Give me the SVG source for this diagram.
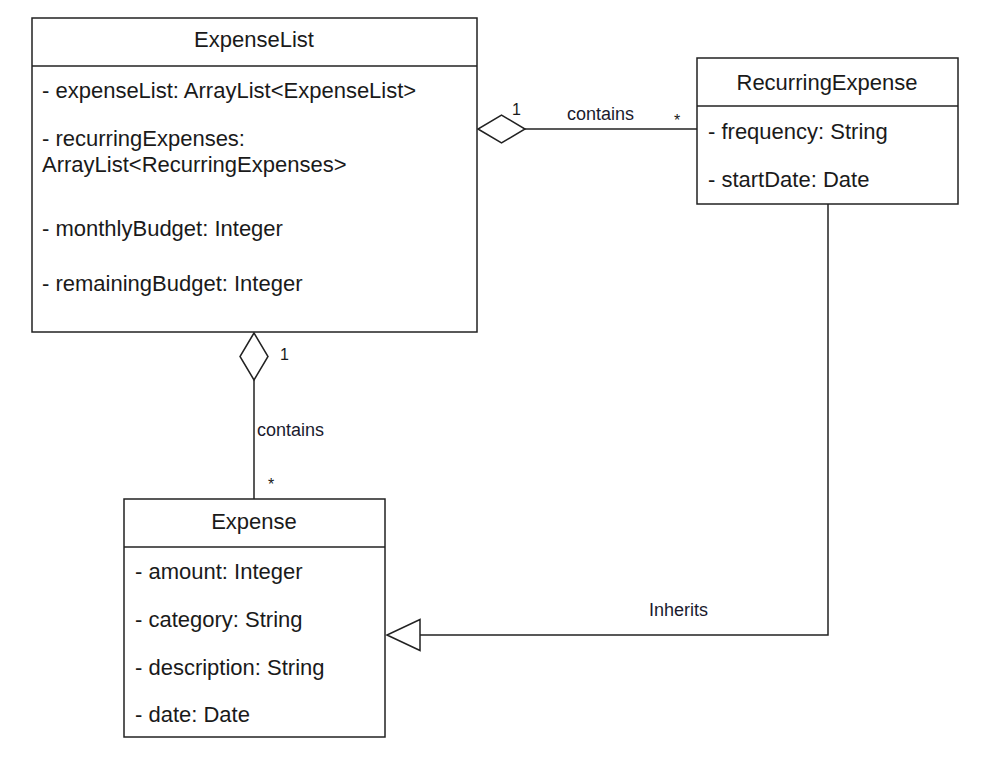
<svg xmlns="http://www.w3.org/2000/svg" width="982" height="761" viewBox="0 0 982 761">
<style>
.box{fill:#fff;stroke:#222;stroke-width:1.5}
.div{stroke:#222;stroke-width:1.5}
.t{font-family:"Liberation Sans",Arial,sans-serif;font-size:22px;fill:#1a1a1a}
.c{text-anchor:middle}
.lbl{font-family:"Liberation Sans",Arial,sans-serif;font-size:18px;fill:#1a1a2e}
.m{font-family:"Liberation Sans",Arial,sans-serif;font-size:16px;fill:#1a1a1a}
.ln{fill:none;stroke:#222;stroke-width:1.5}
</style>
<defs>
<marker id="diamond" markerUnits="userSpaceOnUse" markerWidth="60" markerHeight="40" refX="0" refY="0" orient="auto" overflow="visible">
<path d="M0,0 L-23.5,-14 L-47,0 L-23.5,14 Z" fill="#fff" stroke="#222" stroke-width="1.5"/>
</marker>
<marker id="tri" markerUnits="userSpaceOnUse" markerWidth="40" markerHeight="40" refX="0" refY="0" orient="auto" overflow="visible">
<path d="M0,0 L-33,-15.5 L-33,15.5 Z" fill="#fff" stroke="#222" stroke-width="1.5"/>
</marker>
</defs>
<rect width="982" height="761" fill="#fff"/>
<g id="connectors">
<path class="ln" d="M697,129 L478,129" marker-end="url(#diamond)"/>
<path class="ln" d="M254,499 L254,333" marker-end="url(#diamond)"/>
<path class="ln" d="M828,204 L828,635 L387,635" marker-end="url(#tri)"/>
<text class="m" x="512" y="115">1</text>
<text class="lbl" x="567" y="120">contains</text>
<text class="m" x="674" y="126">*</text>
<text class="m" x="280" y="360">1</text>
<text class="lbl" x="257" y="436">contains</text>
<text class="m" x="268" y="490">*</text>
<text class="lbl" x="649" y="616">Inherits</text>
</g>
<g id="ExpenseList">
<rect class="box" x="32" y="18" width="445" height="314"/>
<line class="div" x1="32" y1="66" x2="477" y2="66"/>
<text class="t c" x="254" y="47">ExpenseList</text>
<text class="t" x="42" y="98">- expenseList: ArrayList&lt;ExpenseList&gt;</text>
<text class="t" x="42" y="146">- recurringExpenses:</text>
<text class="t" x="42" y="172">ArrayList&lt;RecurringExpenses&gt;</text>
<text class="t" x="42" y="236">- monthlyBudget: Integer</text>
<text class="t" x="42" y="291">- remainingBudget: Integer</text>
</g>
<g id="RecurringExpense">
<rect class="box" x="697" y="58" width="261" height="146"/>
<line class="div" x1="697" y1="106" x2="958" y2="106"/>
<text class="t c" x="827" y="90">RecurringExpense</text>
<text class="t" x="708" y="139">- frequency: String</text>
<text class="t" x="708" y="187">- startDate: Date</text>
</g>
<g id="Expense">
<rect class="box" x="124" y="499" width="261" height="238"/>
<line class="div" x1="124" y1="547" x2="385" y2="547"/>
<text class="t c" x="254" y="529">Expense</text>
<text class="t" x="135" y="579">- amount: Integer</text>
<text class="t" x="135" y="627">- category: String</text>
<text class="t" x="135" y="675">- description: String</text>
<text class="t" x="135" y="722">- date: Date</text>
</g>
</svg>
